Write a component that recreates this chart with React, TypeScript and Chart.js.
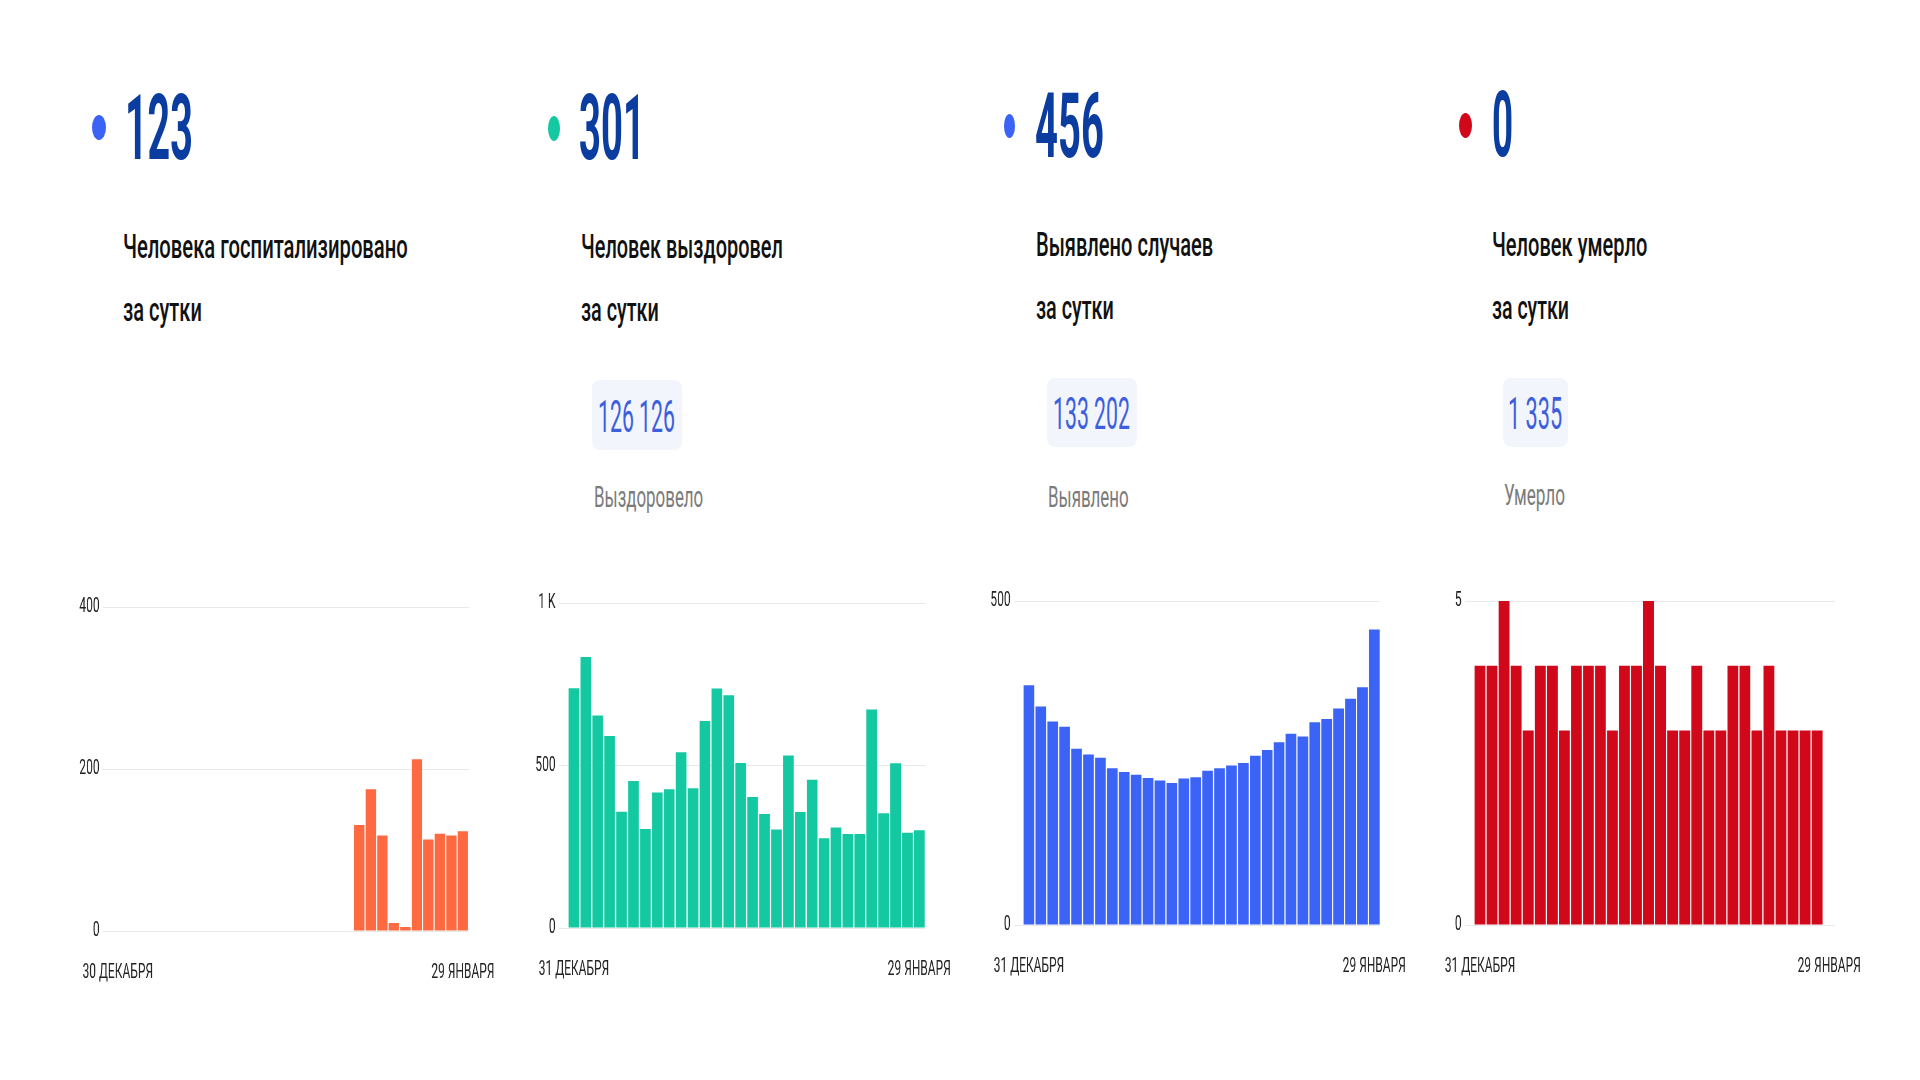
import React, { useEffect, useLayoutEffect, useRef } from "react";
import { Chart, registerables } from "chart.js";

Chart.register(...registerables);

// ---------- data ----------
const DATES_FROM_DEC30 = [
  "30 ДЕКАБРЯ", "31 ДЕКАБРЯ",
  "1 ЯНВАРЯ", "2 ЯНВАРЯ", "3 ЯНВАРЯ", "4 ЯНВАРЯ", "5 ЯНВАРЯ", "6 ЯНВАРЯ", "7 ЯНВАРЯ",
  "8 ЯНВАРЯ", "9 ЯНВАРЯ", "10 ЯНВАРЯ", "11 ЯНВАРЯ", "12 ЯНВАРЯ", "13 ЯНВАРЯ", "14 ЯНВАРЯ",
  "15 ЯНВАРЯ", "16 ЯНВАРЯ", "17 ЯНВАРЯ", "18 ЯНВАРЯ", "19 ЯНВАРЯ", "20 ЯНВАРЯ", "21 ЯНВАРЯ",
  "22 ЯНВАРЯ", "23 ЯНВАРЯ", "24 ЯНВАРЯ", "25 ЯНВАРЯ", "26 ЯНВАРЯ", "27 ЯНВАРЯ", "28 ЯНВАРЯ",
  "29 ЯНВАРЯ",
];
const DATES_FROM_DEC31 = DATES_FROM_DEC30.slice(1);

const HOSPITALIZED = [
  null, null, null, null, null, null, null, null, null, null, null,
  null, null, null, null, null, null, null, null, null, null,
  131, 175, 118, 10, 5, 212, 113, 120, 118, 123,
];
const RECOVERED = [
  738, 834, 654, 591, 358, 452, 305, 417, 427, 541, 430, 637, 737, 716, 508,
  403, 351, 303, 531, 357, 456, 276, 309, 289, 289, 672, 353, 507, 293, 301,
];
const DETECTED = [
  370, 337, 314, 306, 272, 263, 258, 242, 236, 232, 227, 223, 219, 226, 228,
  238, 242, 246, 250, 261, 270, 282, 295, 291, 313, 318, 334, 349, 367, 456,
];
const DEATHS = [
  4, 4, 5, 4, 3, 4, 4, 3, 4, 4, 4, 3, 4, 4, 5,
  4, 3, 3, 4, 3, 3, 4, 4, 3, 4, 3, 3, 3, 3, 0,
];

const Y_TICKS_HOSP = [0, 200, 400];
const Y_TICKS_REC = [0, 500, 1000];
const Y_TICKS_DET = [0, 500];
const Y_TICKS_DEATH = [0, 5];

const HEAD_VALUES = ["123", "301", "456", "0"];
const HEAD_LINE1 = ["Человека госпитализировано", "Человек выздоровел", "Выявлено случаев", "Человек умерло"];
const HEAD_LINE2 = ["за сутки", "за сутки", "за сутки", "за сутки"];
const TOTAL_VALUES = ["126 126", "133 202", "1 335"];
const TOTAL_LABELS = ["Выздоровело", "Выявлено", "Умерло"];

// ---------- styling ----------
const S = 0.57; // horizontal condensing of chart canvases
const FONT = "Roboto, 'Noto Sans', sans-serif";
const NAVY = "#0b3c9f";
const BLUE = "#3b63f5";
const TEAL = "#14c8a1";
const RED = "#d1071a";
const ORANGE = "#fd6a41";

function FitText(props: {
  x: number; capTop: number; size: number; width: number; weight?: number;
  color: string; children: string;
}) {
  const { x, capTop, size, width, weight = 400, color, children } = props;
  const ref = useRef<HTMLSpanElement>(null);
  useLayoutEffect(() => {
    const el = ref.current;
    if (!el) return;
    const apply = () => {
      el.style.transform = "none";
      const w = el.offsetWidth;
      if (w > 0) el.style.transform = `scaleX(${width / w})`;
    };
    apply();
    if ((document as any).fonts && (document as any).fonts.ready) {
      (document as any).fonts.ready.then(apply);
    }
  }, [width, children, size]);
  return (
    <span
      ref={ref}
      style={{
        position: "absolute",
        left: x,
        top: capTop - 0.131 * size,
        fontSize: size,
        lineHeight: 1,
        fontFamily: FONT,
        fontWeight: weight,
        color,
        whiteSpace: "nowrap",
        transformOrigin: "0 0",
      }}
    >
      {children}
    </span>
  );
}

function Dot({ x1, y1, x2, y2, color }: { x1: number; y1: number; x2: number; y2: number; color: string }) {
  return (
    <div
      style={{
        position: "absolute", left: x1, top: y1, width: x2 - x1, height: y2 - y1,
        borderRadius: "50%", background: color,
      }}
    />
  );
}

const YW = 40; // post-scale y-axis width
const PR = 40; // post-scale right padding
const PT = 24; // top padding
const XH = 60; // x-axis height

function BarChart(props: {
  labels: string[]; values: (number | null)[]; color: string; yTicks: number[];
  fmt: (v: number) => string; area: { l: number; r: number; t: number; b: number };
}) {
  const { labels, values, color, yTicks, fmt, area } = props;
  const ref = useRef<HTMLCanvasElement>(null);
  const postL = area.l - YW;
  const postW = area.r - area.l + YW + PR;
  const top = area.t - PT;
  const h = area.b - area.t + PT + XH;
  const w = Math.round(postW / S);

  useEffect(() => {
    const canvas = ref.current;
    if (!canvas) return;
    const n = labels.length;
    const font = { family: FONT, size: 21 };
    const chart = new Chart(canvas, {
      type: "bar",
      data: {
        labels,
        datasets: [
          {
            data: values as any,
            backgroundColor: color,
            borderWidth: 0,
            barPercentage: 0.9,
            categoryPercentage: 1,
          },
        ],
      },
      options: {
        animation: false,
        responsive: false,
        devicePixelRatio: 1,
        events: [],
        layout: { padding: { left: 0, right: PR / S, top: PT, bottom: 0 } },
        plugins: { legend: { display: false }, tooltip: { enabled: false }, title: { display: false } },
        scales: {
          x: {
            grid: { display: false, drawTicks: true, tickLength: 26 },
            border: { display: false },
            ticks: {
              autoSkip: false,
              maxRotation: 0,
              minRotation: 0,
              padding: 3,
              font,
              color: "#222",
              callback: (_v: any, i: number) => (i === 0 || i === n - 1 ? labels[i] : ""),
            },
            afterFit: (s: any) => { s.height = XH; },
          },
          y: {
            min: yTicks[0],
            max: yTicks[yTicks.length - 1],
            grid: { color: "#e9e9e9", lineWidth: 1, drawTicks: true, tickLength: 9 / S },
            border: { display: false },
            ticks: {
              stepSize: yTicks[1] - yTicks[0],
              padding: 3.5 / S,
              font,
              color: "#222",
              callback: (v: any) => fmt(Number(v)),
            },
            afterFit: (s: any) => { s.width = YW / S; },
          },
        },
      },
    });
    return () => chart.destroy();
  }, []);

  return (
    <canvas
      ref={ref}
      width={w}
      height={h}
      style={{
        position: "absolute",
        left: postL,
        top,
        width: w,
        height: h,
        transform: `scaleX(${S})`,
        transformOrigin: "0 0",
      }}
    />
  );
}

const plain = (v: number) => String(v);
const kilo = (v: number) => (v >= 1000 ? `${v / 1000} K` : String(v));

export default function App() {
  // per-column layout (page pixels)
  const cols = [
    { dot: [92, 115, 106, 140], dotColor: BLUE, numX: 125, numCap: 95, numW: 68, bodyX: 123, dy: 0, w1: 285, w2: 79 },
    { dot: [548, 116, 560, 141], dotColor: TEAL, numX: 579, numCap: 95, numW: 66, bodyX: 581, dy: 0, w1: 202, w2: 78 },
    { dot: [1004, 114, 1015, 138], dotColor: BLUE, numX: 1035, numCap: 93, numW: 69, bodyX: 1036, dy: -2, w1: 177, w2: 78 },
    { dot: [1459, 113, 1472, 138], dotColor: RED, numX: 1492, numCap: 92, numW: 21, bodyX: 1492, dy: -2, w1: 155, w2: 77 },
  ];
  const boxes = [
    { x: 592, y: 380, w: 90, h: 70, tx: 598, tcap: 400, tw: 77, lx: 594, lcap: 487, lw: 109 },
    { x: 1047, y: 378, w: 90, h: 69, tx: 1053, tcap: 397, tw: 77, lx: 1048, lcap: 487, lw: 81 },
    { x: 1503, y: 378, w: 65, h: 69, tx: 1508, tcap: 397, tw: 54, lx: 1504, lcap: 485, lw: 61 },
  ];

  return (
    <div
      style={{
        position: "fixed", left: 0, top: 0, width: 1920, height: 1080,
        background: "#fff", overflow: "hidden",
      }}
    >
      {cols.map((c, i) => (
        <React.Fragment key={i}>
          <Dot x1={c.dot[0]} y1={c.dot[1]} x2={c.dot[2]} y2={c.dot[3]} color={c.dotColor} />
          <FitText x={c.numX} capTop={c.numCap} size={91} width={c.numW} weight={700} color={NAVY}>
            {HEAD_VALUES[i]}
          </FitText>
          <FitText x={c.bodyX} capTop={234 + c.dy} size={33} width={c.w1} weight={500} color="#111">
            {HEAD_LINE1[i]}
          </FitText>
          <FitText x={c.bodyX} capTop={297 + c.dy} size={33} width={c.w2} weight={500} color="#111">
            {HEAD_LINE2[i]}
          </FitText>
        </React.Fragment>
      ))}

      {boxes.map((b, i) => (
        <React.Fragment key={"b" + i}>
          <div
            style={{
              position: "absolute", left: b.x, top: b.y, width: b.w, height: b.h,
              background: "#f2f5fc", borderRadius: 8,
            }}
          />
          <FitText x={b.tx} capTop={b.tcap} size={45} width={b.tw} weight={400} color="#3d5fdc">
            {TOTAL_VALUES[i]}
          </FitText>
          <FitText x={b.lx} capTop={b.lcap} size={29} width={b.lw} weight={400} color="#7b7b7b">
            {TOTAL_LABELS[i]}
          </FitText>
        </React.Fragment>
      ))}

      <BarChart labels={DATES_FROM_DEC30} values={HOSPITALIZED} color={ORANGE} yTicks={Y_TICKS_HOSP}
        fmt={plain} area={{ l: 111.5, r: 468, t: 607, b: 931 }} />
      <BarChart labels={DATES_FROM_DEC31} values={RECOVERED} color={TEAL} yTicks={Y_TICKS_REC}
        fmt={kilo} area={{ l: 568, r: 925, t: 603, b: 928 }} />
      <BarChart labels={DATES_FROM_DEC31} values={DETECTED} color={BLUE} yTicks={Y_TICKS_DET}
        fmt={plain} area={{ l: 1023, r: 1380, t: 601, b: 925 }} />
      <BarChart labels={DATES_FROM_DEC31} values={DEATHS} color={RED} yTicks={Y_TICKS_DEATH}
        fmt={plain} area={{ l: 1474, r: 1835, t: 601, b: 925 }} />
    </div>
  );
}
